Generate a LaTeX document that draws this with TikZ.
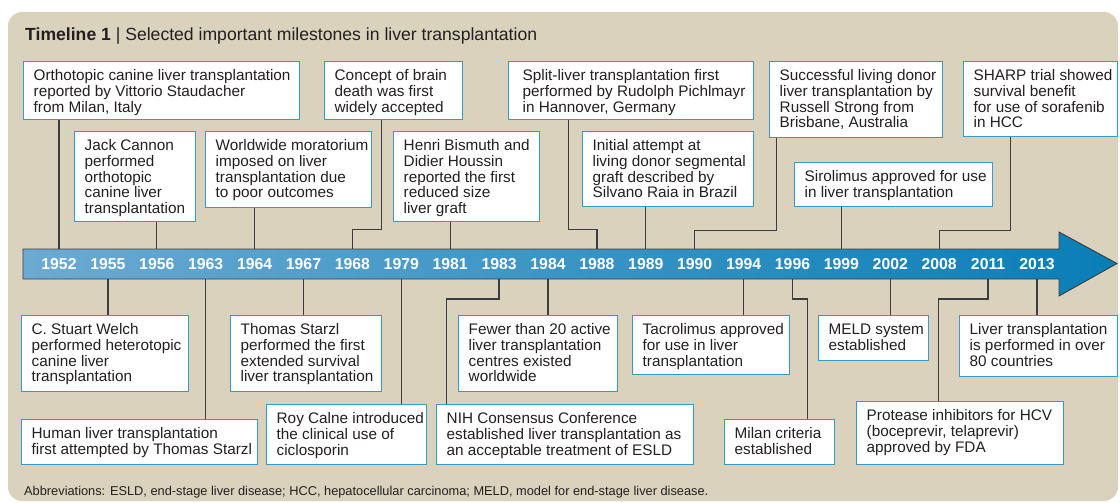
\documentclass[tikz,border=0pt]{standalone}
\usepackage{fontspec}
\setmainfont{Liberation Sans}
\definecolor{panel}{RGB}{219,210,189}
\definecolor{boxblue}{RGB}{50,155,200}
\definecolor{ink}{RGB}{35,31,32}
\definecolor{connc}{RGB}{60,60,60}
\definecolor{barL}{RGB}{108,170,210}
\definecolor{barR}{RGB}{8,126,182}
\newcommand{\tlbox}[6]{\node[tlbox, anchor=north west] (#1) at (#2,#3) {\parbox[c][#5pt][t]{#4pt}{\rule{0pt}{19pt}\hspace{10pt}\begin{tabular}[t]{@{}l@{}}#6\end{tabular}}};}
\tikzset{
  tlbox/.style={draw=boxblue, line width=1.4pt, fill=white, inner sep=0pt,
    font=\fontsize{15.3}{15.5}\selectfont, text=ink},
  yearlbl/.style={text=white, inner sep=0pt, font=\bfseries\fontsize{15.8}{16}\selectfont},
  conn/.style={draw=connc, line width=1.3pt},
}
\begin{document}
\begin{tikzpicture}[x=1pt,y=-1pt]
\useasboundingbox (0,0) rectangle (1120,503);
\fill[white] (0,0) rectangle (1120,503);
\fill[panel, rounded corners=14pt] (8,12) rectangle (1118,501);
% title
\node[anchor=base west, inner sep=0pt, font=\fontsize{17.6}{20}\selectfont, text=ink] (title) at (25,40.7)
  {\textbf{Timeline 1} | Selected important milestones in liver transplantation};
% bar
\draw[left color=barL, right color=barR, draw=connc, line width=0.9pt]
  (23,249) -- (1059,249) -- (1059,232) -- (1117,263.5) -- (1059,296) -- (1059,279) -- (23,279) -- cycle;
\coordinate (bartop) at (0,249);
\coordinate (barbot) at (0,279);
\foreach \yr [count=\i from 0] in {1952,1955,1956,1963,1964,1967,1968,1979,1981,1983,1984,1988,1989,1990,1994,1996,1999,2002,2008,2011,2013}
  \node[yearlbl] (y\yr) at ({59+48.9*\i},264) {\yr};
% upper boxes
\tlbox{A}{23}{61}{276}{58}{Orthotopic canine liver transplantation\\reported by Vittorio Staudacher\\from Milan, Italy}
\tlbox{B}{324}{61}{138}{58}{Concept of brain\\death was first\\widely accepted}
\tlbox{C}{74}{131}{121}{90}{Jack Cannon\\performed\\orthotopic\\canine liver\\transplantation}
\tlbox{D}{205}{131}{166}{76}{Worldwide moratorium\\imposed on liver\\transplantation due\\to poor outcomes}
\tlbox{E}{393}{131}{146}{90}{Henri Bismuth and\\Didier Houssin\\reported the first\\reduced size\\liver graft}
\tlbox{F}{508}{61}{245}{58}{\hspace{4pt}Split-liver transplantation first\\\hspace{4pt}performed by Rudolph Pichlmayr\\\hspace{4pt}in Hannover, Germany}
\tlbox{G}{582}{131}{171}{75}{Initial attempt at\\living donor segmental\\graft described by\\Silvano Raia in Brazil}
\tlbox{H}{769}{61}{173}{76}{Successful living donor\\liver transplantation by\\Russell Strong from\\Brisbane, Australia}
\tlbox{I}{963}{61}{154}{75}{SHARP trial showed\\survival benefit\\for use of sorafenib\\in HCC}
\tlbox{J}{794}{162}{198}{44}{Sirolimus approved for use\\in liver transplantation}
% lower boxes
\tlbox{K}{21}{315}{167}{76}{C. Stuart Welch\\performed heterotopic\\canine liver\\transplantation}
\tlbox{L}{21}{419}{236}{45}{Human liver transplantation\\first attempted by Thomas Starzl}
\tlbox{M}{230}{315}{151}{76}{Thomas Starzl\\performed the first\\extended survival\\liver transplantation}
\tlbox{N}{266}{404}{160}{60}{Roy Calne introduced\\the clinical use of\\ciclosporin}
\tlbox{O}{436}{404}{257}{60}{NIH Consensus Conference\\established liver transplantation as\\an acceptable treatment of ESLD}
\tlbox{P}{458}{315}{159}{76}{Fewer than 20 active\\liver transplantation\\centres existed\\worldwide}
\tlbox{Q}{632}{315}{157}{59}{Tacrolimus approved\\for use in liver\\transplantation}
\tlbox{R}{724}{419}{110}{45}{Milan criteria\\established}
\tlbox{S}{818}{315}{110}{45}{MELD system\\established}
\tlbox{T}{856}{401}{207}{63}{Protease inhibitors for HCV\\(boceprevir, telaprevir)\\approved by FDA}
\tlbox{U}{959}{315}{158}{61}{Liver transplantation\\is performed in over\\80 countries}
% abbreviations
\node[anchor=base west, inner sep=0pt, font=\fontsize{12.8}{14}\selectfont, text=ink] (abbr) at (24,495)
  {Abbreviations: ESLD, end-stage liver disease; HCC, hepatocellular carcinoma; MELD, model for end-stage liver disease.};
% upper connectors
\draw[conn] (A.south -| y1952) -- (y1952 |- bartop);
\draw[conn] (C.south -| y1956) -- (y1956 |- bartop);
\draw[conn] (D.south -| y1964) -- (y1964 |- bartop);
\draw[conn] ([xshift=-12pt]B.south) -- ++(0,109) -| (y1968 |- bartop);
\draw[conn] (E.south -| y1981) -- (y1981 |- bartop);
\draw[conn] ([xshift=-62.5pt]F.south) -- ++(0,109) -| (y1988 |- bartop);
\draw[conn] (G.south -| y1989) -- (y1989 |- bartop);
\draw[conn] ([xshift=-79.5pt]H.south) -- ++(0,92) -| (y1990 |- bartop);
\draw[conn] (J.south -| y1999) -- (y1999 |- bartop);
\draw[conn] ([xshift=-30pt]I.south) -- ++(0,93) -| (y2008 |- bartop);
% lower connectors
\draw[conn] (y1955 |- barbot) -- (K.north -| y1955);
\draw[conn] (y1963 |- barbot) -- (L.north -| y1963);
\draw[conn] (y1967 |- barbot) -- (M.north -| y1967);
\draw[conn] (y1979 |- barbot) -- (N.north -| y1979);
\draw[conn] (y1983 |- barbot) -- ++(0,20) -| ([xshift=-118.5pt]O.north);
\draw[conn] (y1984 |- barbot) -- (P.north -| y1984);
\draw[conn] (y1994 |- barbot) -- (Q.north -| y1994);
\draw[conn] (y1996 |- barbot) -- ++(0,20) -| ([xshift=28pt]R.north);
\draw[conn] (y2002 |- barbot) -- (S.north -| y2002);
\draw[conn] (y2011 |- barbot) -- ++(0,20) -| ([xshift=-21.5pt]T.north);
\draw[conn] (y2013 |- barbot) -- (U.north -| y2013);
\end{tikzpicture}
\end{document}
